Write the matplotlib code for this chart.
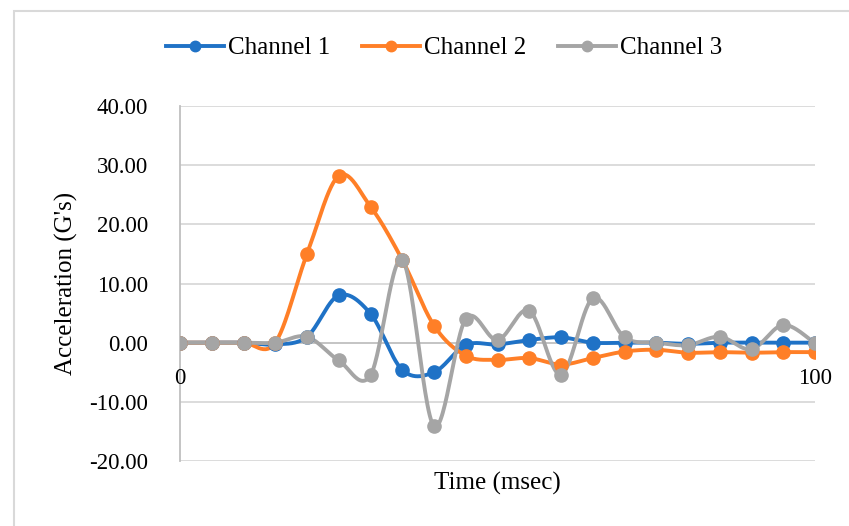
import numpy as np
import matplotlib
matplotlib.use("Agg")
import matplotlib.pyplot as plt
from matplotlib.patches import Rectangle

time = [0, 5, 10, 15, 20, 25, 30, 35, 40, 45, 50, 55, 60, 65, 70, 75, 80, 85, 90, 95, 100]
channel1 = [0, 0, 0, -0.3, 1.0, 8.0, 4.9, -4.6, -5.0, -0.4, -0.3, 0.45, 0.9, 0.0, 0.0, 0.0, -0.2, 0.0, 0.0, 0.0, 0.0]
channel2 = [0, 0, 0, 0, 15.0, 28.2, 23.0, 14.0, 2.9, -2.2, -2.9, -2.6, -3.7, -2.6, -1.5, -1.2, -1.7, -1.6, -1.7, -1.6, -1.6]
channel3 = [0, 0, 0, 0, 1.0, -3.0, -5.5, 14.0, -14.1, 4.0, 0.45, 5.4, -5.4, 7.5, 0.9, 0.0, -0.4, 1.0, -1.1, 3.0, -0.1]
series_names = ["Channel 1", "Channel 2", "Channel 3"]
colors = ["#1f72c6", "#ff7f27", "#a5a5a5"]
y_ticks = [-20, -10, 0, 10, 20, 30, 40]


def smooth(x, y, n=30):
    x = np.asarray(x, float)
    y = np.asarray(y, float)
    px = np.concatenate([[x[0]], x, [x[-1]]])
    py = np.concatenate([[y[0]], y, [y[-1]]])
    xs, ys = [], []
    t = np.linspace(0, 1, n)
    for i in range(1, len(px) - 2):
        p0 = np.array([px[i], py[i]])
        p3 = np.array([px[i + 1], py[i + 1]])
        c1 = p0 + (np.array([px[i + 1], py[i + 1]]) - np.array([px[i - 1], py[i - 1]])) / 6
        c2 = p3 - (np.array([px[i + 2], py[i + 2]]) - np.array([px[i], py[i]])) / 6
        b = ((1 - t) ** 3)[:, None] * p0 + (3 * (1 - t) ** 2 * t)[:, None] * c1 + \
            (3 * (1 - t) * t ** 2)[:, None] * c2 + (t ** 3)[:, None] * p3
        xs.extend(b[:, 0]); ys.extend(b[:, 1])
    return np.array(xs), np.array(ys)


FS = 16.5
FT = 18
plt.rcParams['font.family'] = ['Liberation Serif', 'DejaVu Serif']
fig = plt.figure(figsize=(8.49, 5.26), dpi=100)
W, H = 849, 526
ax = fig.add_axes([180 / W, 1 - 461 / H, (815 - 180) / W, (461 - 106) / H])

fig.patches.append(Rectangle((14 / W, -0.1), 1.2, 1 - 11 / H + 0.1, transform=fig.transFigure,
                             fill=False, edgecolor="#d9d9d9", linewidth=1.5, zorder=0))

for name, vals, c in zip(series_names, [channel1, channel2, channel3], colors):
    sx, sy = smooth(time, vals)
    ax.plot(sx, sy, color=c, linewidth=2.8, solid_capstyle='round', zorder=3)
    ax.plot(time, vals, linestyle='none', marker='o', markersize=9.5, color=c, zorder=4)
    ax.plot([], [], color=c, linewidth=2.8, marker='o', markersize=7.5, label=name)

ax.set_xlim(0, 100)
ax.set_ylim(-20, 40)
ax.set_yticks(y_ticks)
ax.set_yticklabels([f"{v:.2f}" for v in y_ticks])
ax.set_xticks([])
for v in y_ticks:
    if v != 0:
        ax.axhline(v, color="#d9d9d9", linewidth=1.3, zorder=1)
ax.axhline(0, color="#bfbfbf", linewidth=1.3, zorder=2)
for s in ['top', 'right', 'bottom']:
    ax.spines[s].set_visible(False)
ax.spines['left'].set_color("#bfbfbf")
ax.spines['left'].set_linewidth(1.3)
ax.tick_params(axis='y', length=0, pad=23, labelsize=FS, colors='black')
ax.text(0, -6.0, "0", ha='center', va='center', fontsize=FS)
ax.text(100, -6.0, "100", ha='center', va='center', fontsize=FS)

ax.set_ylabel("Acceleration (G's)", fontsize=FT, labelpad=8)
ax.set_xlabel("Time (msec)", fontsize=FT, labelpad=8)

leg = fig.legend(loc='center', bbox_to_anchor=(444 / W, 1 - 48 / H), ncol=3, frameon=False,
                 fontsize=FT, handlelength=2.3, columnspacing=1.3, handletextpad=0.15)

fig.savefig("out.png", dpi=100)
